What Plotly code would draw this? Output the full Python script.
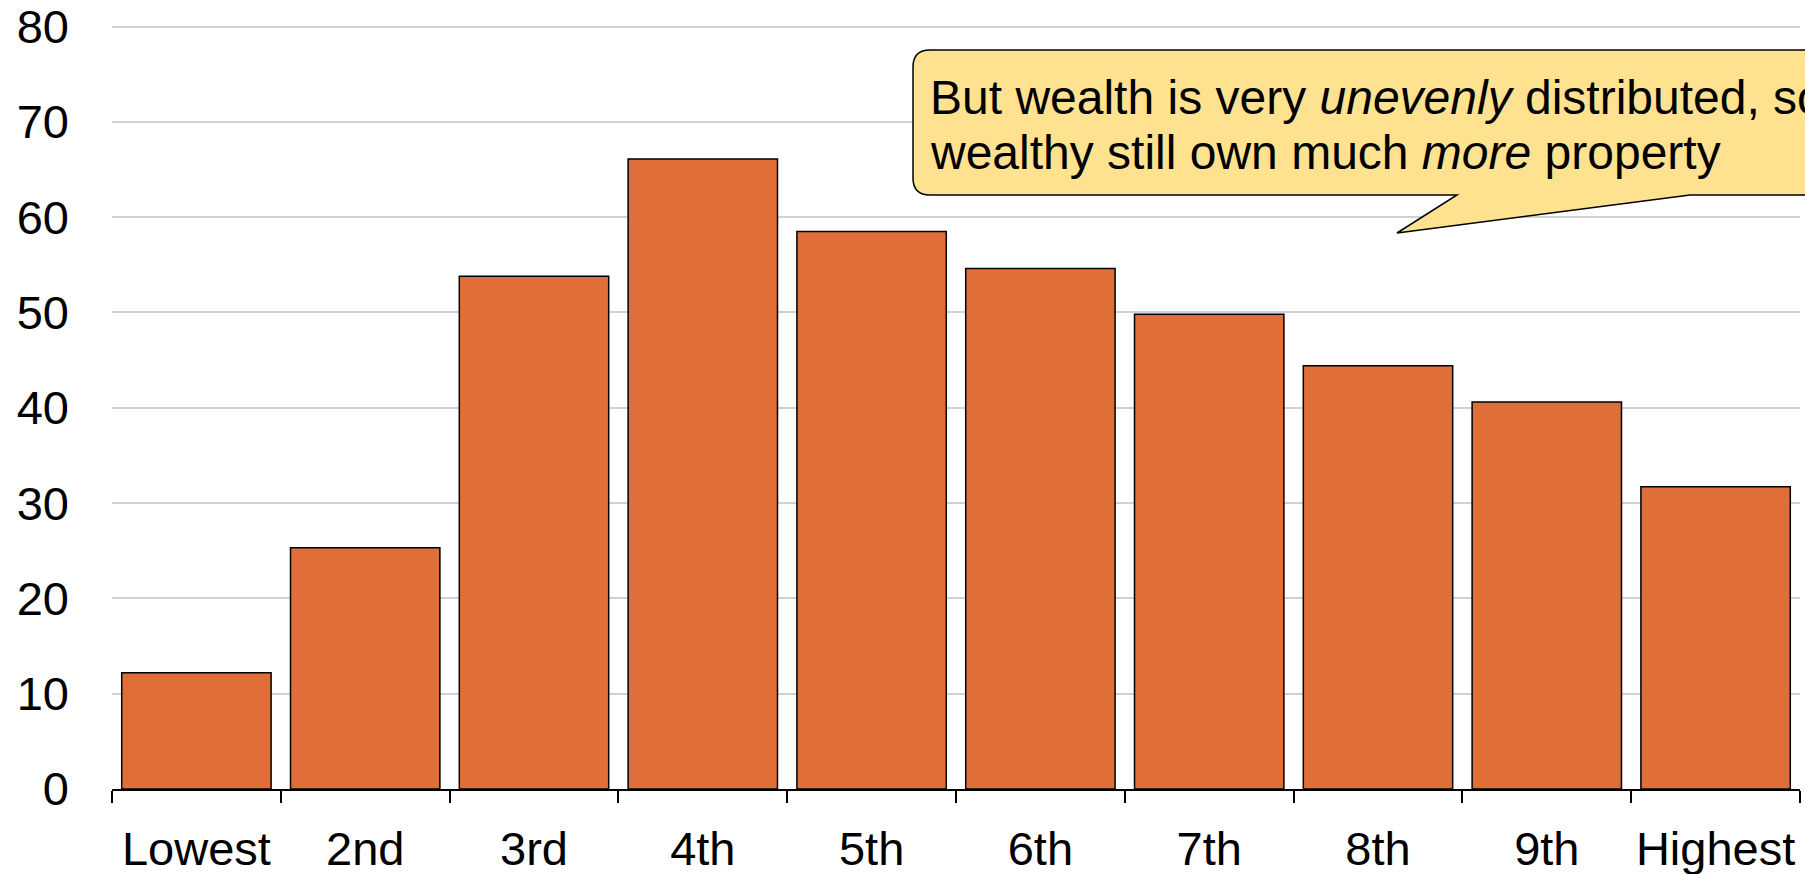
import plotly.graph_objects as go

categories = ["Lowest", "2nd", "3rd", "4th", "5th", "6th", "7th", "8th", "9th", "Highest"]
values = [12.2, 25.3, 53.8, 66.1, 58.5, 54.6, 49.8, 44.4, 40.6, 31.7]
y_ticks = [0, 10, 20, 30, 40, 50, 60, 70, 80]
callout_line1 = "But wealth is very <i>unevenly</i> distributed, so the"
callout_line2 = "wealthy still own much <i>more</i> property"

W, H = 1805, 874
ML, MR, MT, MB = 112, 5, 22, 85
PL, PR = ML, W - MR
PT, PB = MT, H - MB
Y_TOP = 80 * (PB - PT) / (PB - 26.5)

def px(x):
    return (x - PL) / (PR - PL)

def py(y):
    return (PB - y) / (PB - PT)

font = "Liberation Sans, Arial, sans-serif"
FS = 47
FS_NOTE = 48

fig = go.Figure()
fig.add_trace(go.Bar(
    x=categories, y=values,
    marker=dict(color="#DF6E38", line=dict(color="black", width=1.5)),
    width=0.885,
))

# callout shape
r = 17
L, T, R, B = 913, 50, 1815, 195
path = (
    f"M {px(L + r)},{py(T)} L {px(R)},{py(T)} L {px(R)},{py(B)} "
    f"L {px(1690)},{py(B)} L {px(1397)},{py(233)} L {px(1457)},{py(B)} "
    f"L {px(L + r)},{py(B)} Q {px(L)},{py(B)} {px(L)},{py(B - r)} "
    f"L {px(L)},{py(T + r)} Q {px(L)},{py(T)} {px(L + r)},{py(T)} Z"
)
fig.add_shape(type="path", path=path, xref="paper", yref="paper",
              fillcolor="#FEE290", line=dict(color="black", width=1.5), layer="above")

fig.add_annotation(text=callout_line1, xref="paper", yref="paper",
                   x=px(928), y=py(97), xanchor="left", yanchor="middle",
                   showarrow=False, font=dict(family=font, size=FS_NOTE, color="black"))
fig.add_annotation(text=callout_line2, xref="paper", yref="paper",
                   x=px(928), y=py(152), xanchor="left", yanchor="middle",
                   showarrow=False, font=dict(family=font, size=FS_NOTE, color="black"))

fig.update_layout(
    width=W, height=H,
    margin=dict(l=ML, r=MR, t=MT, b=MB, pad=0, autoexpand=False),
    paper_bgcolor="white", plot_bgcolor="white",
    showlegend=False,
    bargap=0.115,
    font=dict(family=font, size=FS, color="black"),
)
fig.update_xaxes(
    automargin=False, tickangle=0, ticklabeloverflow="allow",
    showline=True, linecolor="black", linewidth=1.5,
    ticks="outside", tickson="boundaries", ticklen=12, tickwidth=1.5, tickcolor="black",
    ticklabelstandoff=18,
    tickfont=dict(family=font, size=FS, color="black"),
    showgrid=False,
)
fig.update_yaxes(
    automargin=False, ticklabeloverflow="allow",
    range=[0, Y_TOP], tickvals=y_ticks,
    showgrid=True, gridcolor="#D0D0D0", gridwidth=2,
    zeroline=False, showline=False, ticks="",
    ticklabelstandoff=42,
    tickfont=dict(family=font, size=FS, color="black"),
)

fig.write_html("out.html", config={"displayModeBar": False},
               post_script="document.body.style.margin='0';document.body.style.overflow='hidden';")
